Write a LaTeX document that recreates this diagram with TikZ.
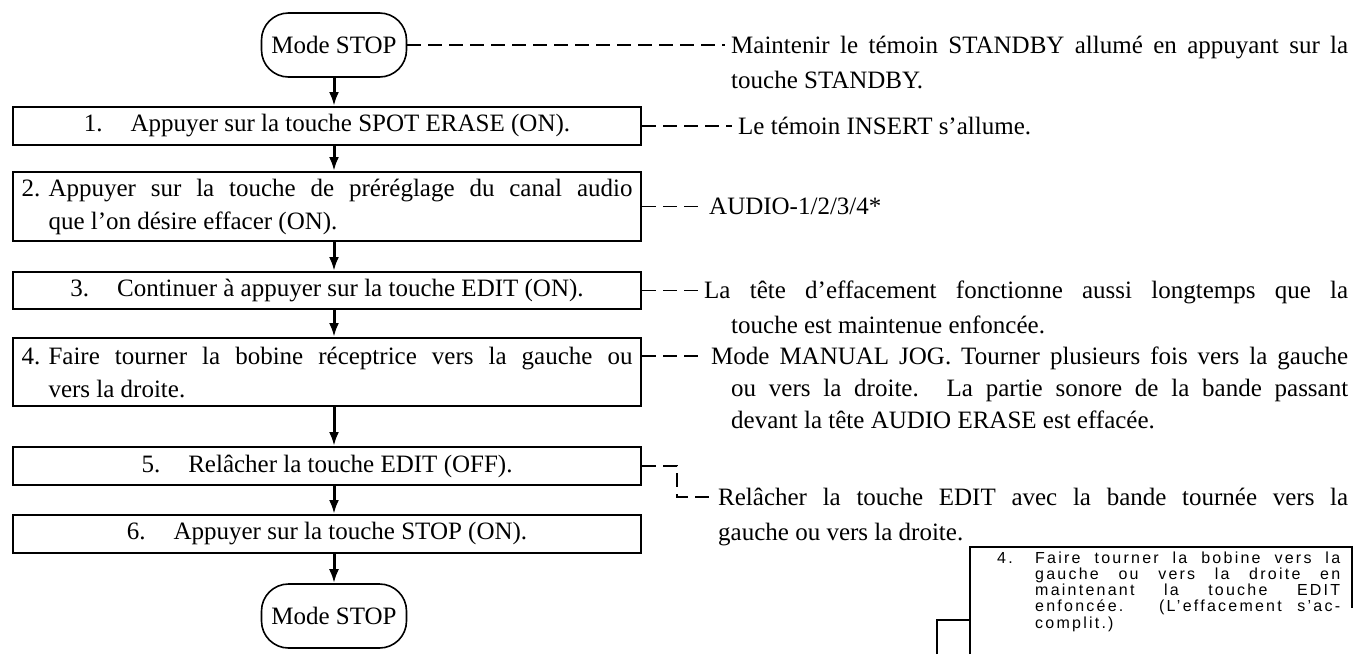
\documentclass[tikz,border=0pt]{standalone}
\usepackage{fontspec}
\setmainfont{Liberation Serif}
\newfontfamily\insetsans[LetterSpace=14]{Liberation Sans}
\usetikzlibrary{arrows.meta}
\newcommand\mainfs{\fontsize{25}{35}\selectfont}
\newcommand\manualfs{\fontsize{25}{32}\selectfont}
\newcommand\boxfs{\fontsize{25}{33}\selectfont}
\newcommand\insetfs{\insetsans\fontsize{16}{16.3}\selectfont}
\tikzset{
  stepbox/.style={draw, line width=2pt, minimum width=628pt, inner sep=0pt, font=\mainfs},
  multibox/.style={stepbox, text width=611pt, inner xsep=8.5pt, align=justify, font=\boxfs},
  termbox/.style={draw, line width=1.6pt, rounded corners=27pt, minimum width=145pt, minimum height=64pt, inner sep=0pt, font=\mainfs},
  flow/.style={line width=3pt, -{Latex[length=14pt,width=10pt]}},
  note/.style={line width=1.5pt, dash pattern=on 14pt off 7pt},
  notetext/.style={font=\mainfs, inner sep=0pt},
  notepar/.style={notetext, align=justify},
  insetline/.style={line width=1.3pt},
  insettext/.style={font=\insetfs, inner sep=0pt},
}
\begin{document}
\begin{tikzpicture}[x=1pt,y=-1pt]
\fill[white] (0,0) rectangle (1354,654);
\useasboundingbox (0,0) rectangle (1354,654);

% flow chart
\node[termbox] (o1) at (334,45) {Mode STOP};
\node[stepbox, minimum height=38pt] (b1) at (327,126) {1.\hspace{28pt}Appuyer sur la touche SPOT ERASE (ON).};
\node[multibox, minimum height=69pt] (b2) at (327,206.5) {\hangindent=27pt\hangafter=1\makebox[27pt][l]{2.}Appuyer sur la touche de préréglage du canal audio\linebreak que l’on désire effacer (ON).\par};
\node[stepbox, minimum height=37pt] (b3) at (327,290.5) {3.\hspace{28pt}Continuer à appuyer sur la touche EDIT (ON).};
\node[multibox, minimum height=68pt] (b4) at (327,372) {\hangindent=27pt\hangafter=1\makebox[27pt][l]{4.}Faire tourner la bobine réceptrice vers la gauche ou\linebreak vers la droite.\par};
\node[stepbox, minimum height=38pt] (b5) at (327,466) {5.\hspace{28pt}Relâcher la touche EDIT (OFF).};
\node[stepbox, minimum height=38pt] (b6) at (327,534) {6.\hspace{28pt}Appuyer sur la touche STOP (ON).};
\node[termbox] (o2) at (334,616) {Mode STOP};

\draw[flow] (o1.south) -- (o1.south |- b1.north);
\draw[flow] (b1.south -| o1) -- (b2.north -| o1);
\draw[flow] (b2.south -| o1) -- (b3.north -| o1);
\draw[flow] (b3.south -| o1) -- (b4.north -| o1);
\draw[flow] (b4.south -| o1) -- (b5.north -| o1);
\draw[flow] (b5.south -| o1) -- (b6.north -| o1);
\draw[flow] (b6.south -| o1) -- (o2.north);

% notes
\node[notepar, text width=617pt, anchor=base west] (n0) at (731,53) {Maintenir le témoin STANDBY allumé en appuyant sur la\linebreak touche STANDBY.\par};
\coordinate (e0) at (725,45);
\draw[note] (o1.east) -- (e0);

\node[notetext, anchor=west] (n1) at (738,126) {Le témoin INSERT s’allume.};
\coordinate (e1) at (732,126);
\draw[note] (b1.east) -- (e1);

\node[notetext, anchor=west] (n2) at (709,206.5) {AUDIO-1/2/3/4*};
\coordinate (e2) at (703,206.5);
\draw[note] (b2.east) -- (e2);

\node[notepar, text width=644pt, anchor=base west] (n3) at (704,298.5) {\hangindent=27pt\hangafter=1 La tête d’effacement fonctionne aussi longtemps que la\linebreak touche est maintenue enfoncée.\par};
\coordinate (e3) at (698,290.5);
\draw[note] (b3.east) -- (e3);

\node[notepar, font=\manualfs, text width=637pt, anchor=base west] (n4) at (711,364) {\hangindent=20pt\hangafter=1 Mode MANUAL JOG. Tourner plusieurs fois vers la gauche\linebreak ou vers la droite. La partie sonore de la bande passant\linebreak devant la tête AUDIO ERASE est effacée.\par};
\coordinate (e4) at (705,356);
\draw[note] (b4.east |- e4) -- (e4);

\node[notepar, text width=630pt, anchor=base west] (n5) at (718,505) {Relâcher la touche EDIT avec la bande tournée vers la\linebreak gauche ou vers la droite.\par};
\coordinate (k5) at (677,481);
\coordinate (e5) at (712,497);
\draw[note] (b5.east) -| (k5) |- (e5);

% inset fragment
\draw[insetline] (970,654) -- (970,547) -- (1352,547) -- (1352,608);
\draw[insetline] (937,654) -- (937,620) -- (970,620);
\node[insettext, anchor=base west] (i4) at (997,563) {4.};
\node[insettext, text width=305pt, align=justify, anchor=base west] (it) at (1035,563) {Faire tourner la bobine vers la\linebreak gauche ou vers la droite en\linebreak maintenant la touche EDIT\linebreak enfoncée. (L’effacement s’ac-\linebreak complit.)\par};
\end{tikzpicture}
\end{document}
